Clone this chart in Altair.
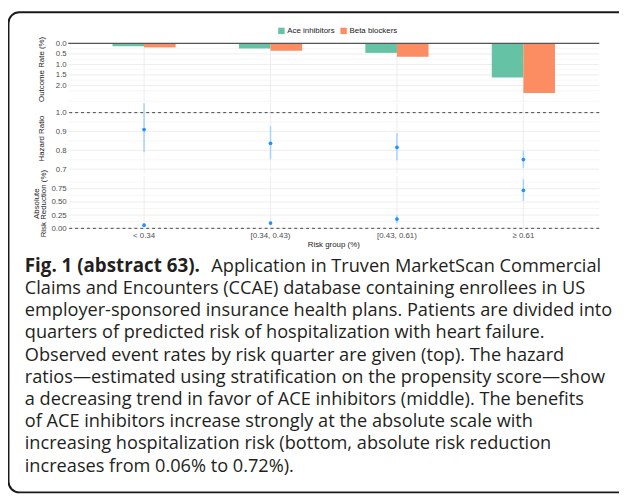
import altair as alt
import pandas as pd

# ---------------- data ----------------
groups = ["< 0.34", "[0.34, 0.43)", "[0.43, 0.61)", "≥ 0.61"]
drugs = ["Ace inhibitors", "Beta blockers"]
ace_rate = [0.14, 0.24, 0.45, 1.62]
beta_rate = [0.19, 0.35, 0.64, 2.36]

hr = [0.910, 0.837, 0.816, 0.751]
hr_lo = [0.790, 0.752, 0.747, 0.707]
hr_hi = [1.050, 0.928, 0.891, 0.798]

arr = [0.06, 0.10, 0.175, 0.72]
arr_lo = [0.04, 0.07, 0.095, 0.52]
arr_hi = [0.09, 0.13, 0.25, 0.93]

rate_ticks = [0.0, 0.5, 1.0, 1.5, 2.0]
rate_minor = [0.25, 0.75, 1.25, 1.75, 2.25, 2.75]
hr_ticks = [0.7, 0.8, 0.9, 1.0]
hr_minor = [0.75, 0.85, 0.95]
arr_ticks = [0.0, 0.25, 0.5, 0.75]
arr_minor = [0.125, 0.375, 0.625, 0.875]

caption_bold = "Fig. 1 (abstract 63)."
caption_first_rest = "Application in Truven MarketScan Commercial"
caption_lines = [
    "Claims and Encounters (CCAE) database containing enrollees in US",
    "employer-sponsored insurance health plans. Patients are divided into",
    "quarters of predicted risk of hospitalization with heart failure.",
    "Observed event rates by risk quarter are given (top). The hazard",
    "ratios\u2014estimated using stratification on the propensity score\u2014show",
    "a decreasing trend in favor of ACE inhibitors (middle). The benefits",
    "of ACE inhibitors increase strongly at the absolute scale with",
    "increasing hospitalization risk (bottom, absolute risk reduction",
    "increases from 0.06% to 0.72%).",
]

# ---------------- tables ----------------
gdf = pd.DataFrame({"group": groups})
bars = pd.DataFrame({
    "group": groups * 2,
    "drug": [drugs[0]] * 4 + [drugs[1]] * 4,
    "rate": ace_rate + beta_rate,
})
hrdf = pd.DataFrame({"group": groups, "v": hr, "lo": hr_lo, "hi": hr_hi})
arrdf = pd.DataFrame({"group": groups, "v": arr, "lo": arr_lo, "hi": arr_hi})
cap0 = pd.DataFrame({"line": [0], "t": [caption_bold]})
cap0r = pd.DataFrame({"line": [0], "t": [caption_first_rest]})
capdf = pd.DataFrame({"line": list(range(1, len(caption_lines) + 1)), "t": caption_lines})
one = pd.DataFrame({"a": [0]})

FONT = "Liberation Sans"
GRID = "#ebebeb"
MINOR = "#f5f5f5"
LAB = "#4d4d4d"
TIT = "#1a1a1a"

X = alt.X("group:N", sort=groups,
          scale=alt.Scale(type="point", domain=groups, padding=0.6),
          axis=None, title=None)

rate_dom = [-0.36, 2.78]
hr_dom = [0.68, 1.051]
arr_dom = [-0.045, 1.0]
rate_scale = alt.Scale(domain=rate_dom, range=[25.0, 91.9], nice=False, zero=False)
hr_scale = alt.Scale(domain=hr_dom, range=[163.9, 93.06], nice=False, zero=False)
arr_scale = alt.Scale(domain=arr_dom, range=[222.4, 166.6], nice=False, zero=False)


def yaxis(values, fmt, title, tpad):
    return alt.Axis(values=values, format=fmt, title=title, grid=False,
                    domain=False, ticks=False,
                    labelPadding=2, labelFontSize=8, labelColor=LAB, labelFont=FONT,
                    titleFontSize=8, titleColor=TIT, titleFont=FONT, titleLineHeight=7.5,
                    titleFontWeight="normal", titlePadding=tpad, orient="left")


ax1 = yaxis(rate_ticks, ".1f", "Outcome Rate (%)", 10)
ax2 = yaxis(hr_ticks, ".1f", "Hazard Ratio", 10)
ax3 = yaxis(arr_ticks, ".2f", ["Absolute", "Risk Reduction (%)"], 3)


def major(ticks, scale, axis):
    return alt.Chart(pd.DataFrame({"m": ticks})).mark_rule(color=GRID, strokeWidth=0.9).encode(
        y=alt.Y("m:Q", scale=scale, axis=axis))


def minor(ticks, scale, axis):
    return alt.Chart(pd.DataFrame({"m": ticks})).mark_rule(color=MINOR, strokeWidth=0.8).encode(
        y=alt.Y("m:Q", scale=scale, axis=axis))


def vgrid(scale, axis, lo, hi):
    return alt.Chart(gdf).mark_rule(color=GRID, strokeWidth=0.9).encode(
        x=X, y=alt.Y(datum=lo, scale=scale, axis=axis), y2=alt.Y2(datum=hi))


# ---------------- panel 1: outcome rate ----------------
legend = alt.Legend(orient="none", legendX=212, legendY=16, direction="horizontal",
                    title=None, symbolType="square", symbolSize=42, symbolStrokeWidth=0,
                    labelFontSize=8, labelFont=FONT, labelColor=TIT, labelOffset=2,
                    columnPadding=4, padding=0)
color = alt.Color("drug:N", scale=alt.Scale(domain=drugs, range=["#66c2a5", "#fc8d62"]),
                  legend=legend)
p1_ace = alt.Chart(bars).transform_filter(alt.datum.drug == drugs[0]).mark_bar(
    width=32, xOffset=-16).encode(
    x=X, y=alt.Y("rate:Q", scale=rate_scale, axis=ax1), y2=alt.Y2(datum=0), color=color)
p1_beta = alt.Chart(bars).transform_filter(alt.datum.drug == drugs[1]).mark_bar(
    width=32, xOffset=16).encode(
    x=X, y=alt.Y("rate:Q", scale=rate_scale, axis=ax1), y2=alt.Y2(datum=0), color=color)
p1_zero = alt.Chart(one).mark_rule(color="#555555", strokeWidth=1.1).encode(
    y=alt.Y(datum=0, scale=rate_scale, axis=ax1))
panel1 = alt.layer(
    major(rate_ticks, rate_scale, ax1),
    minor(rate_minor, rate_scale, ax1),
    vgrid(rate_scale, ax1, 0, rate_dom[1]),
    p1_ace, p1_beta, p1_zero)

# ---------------- panel 2: hazard ratio ----------------
p2_ref = alt.Chart(one).mark_rule(color="#333333", strokeWidth=0.9, strokeDash=[3, 3]).encode(
    y=alt.Y(datum=1.0, scale=hr_scale, axis=ax2))
p2_err = alt.Chart(hrdf).mark_rule(color="#a5d3ff", strokeWidth=1.5).encode(
    x=X, y=alt.Y("lo:Q", scale=hr_scale, axis=ax2), y2="hi:Q")
p2_pt = alt.Chart(hrdf).mark_circle(size=14, color="#1e90ff", opacity=1).encode(
    x=X, y=alt.Y("v:Q", scale=hr_scale, axis=ax2))
panel2 = alt.layer(
    major(hr_ticks, hr_scale, ax2),
    minor(hr_minor, hr_scale, ax2),
    vgrid(hr_scale, ax2, hr_dom[0], hr_dom[1]),
    p2_ref, p2_err, p2_pt)

# ---------------- panel 3: absolute risk reduction ----------------
p3_ref = alt.Chart(one).mark_rule(color="#333333", strokeWidth=0.9, strokeDash=[3, 3]).encode(
    y=alt.Y(datum=0.0, scale=arr_scale, axis=ax3))
p3_err = alt.Chart(arrdf).mark_rule(color="#a5d3ff", strokeWidth=1.5).encode(
    x=X, y=alt.Y("lo:Q", scale=arr_scale, axis=ax3), y2="hi:Q")
p3_pt = alt.Chart(arrdf).mark_circle(size=14, color="#1e90ff", opacity=1).encode(
    x=X, y=alt.Y("v:Q", scale=arr_scale, axis=ax3))
panel3 = alt.layer(
    major(arr_ticks, arr_scale, ax3),
    minor(arr_minor, arr_scale, ax3),
    vgrid(arr_scale, ax3, arr_dom[0], arr_dom[1]),
    p3_ref, p3_err, p3_pt)

# ---------------- x labels / title ----------------
xlabels = alt.Chart(gdf).mark_text(fontSize=8, font=FONT, color=LAB, baseline="middle").encode(
    x=X, y=alt.value(227.5), text="group:N")
xtitle = alt.Chart(one).mark_text(fontSize=8, font=FONT, color=TIT, baseline="middle").encode(
    x=alt.value(269), y=alt.value(236.5), text=alt.value("Risk group (%)"))

# ---------------- caption ----------------
cap_scale = alt.Scale(domain=[0, 9], range=[264, 466.5])
CAPFONT = "Open Sans"
CAPCOL = "#231f20"
cap_b = alt.Chart(cap0).mark_text(font=CAPFONT, fontSize=19, fontWeight="bold", align="left",
                                  baseline="alphabetic", color=CAPCOL).encode(
    x=alt.value(-44), y=alt.Y("line:Q", scale=cap_scale, axis=None), text="t:N")
cap_r0 = alt.Chart(cap0r).mark_text(font=CAPFONT, fontSize=18.4, align="left",
                                    baseline="alphabetic", color=CAPCOL).encode(
    x=alt.value(145), y=alt.Y("line:Q", scale=cap_scale, axis=None), text="t:N")
cap_r = alt.Chart(capdf).mark_text(font=CAPFONT, fontSize=18.4, align="left",
                                   baseline="alphabetic", color=CAPCOL).encode(
    x=alt.value(-44), y=alt.Y("line:Q", scale=cap_scale, axis=None), text="t:N")

# ---------------- frame ----------------
frame = alt.Chart(one).mark_rect(fillOpacity=0, stroke="#1a1a1a", strokeWidth=2,
                                 cornerRadius=11).encode(
    x=alt.value(-60.5), x2=alt.value(700), y=alt.value(1), y2=alt.value(487.5))

chart = alt.layer(
    frame, panel1, panel2, panel3, xlabels, xtitle, cap_b, cap_r0, cap_r
).resolve_scale(y="independent").properties(
    width=538, height=490,
    autosize=alt.AutoSizeParams(type="none"),
    padding={"left": 61, "top": 0, "right": 20, "bottom": 0},
    background="white",
).configure_view(stroke=None)

chart.save("out.html", embed_options={"renderer": "svg", "actions": False})
